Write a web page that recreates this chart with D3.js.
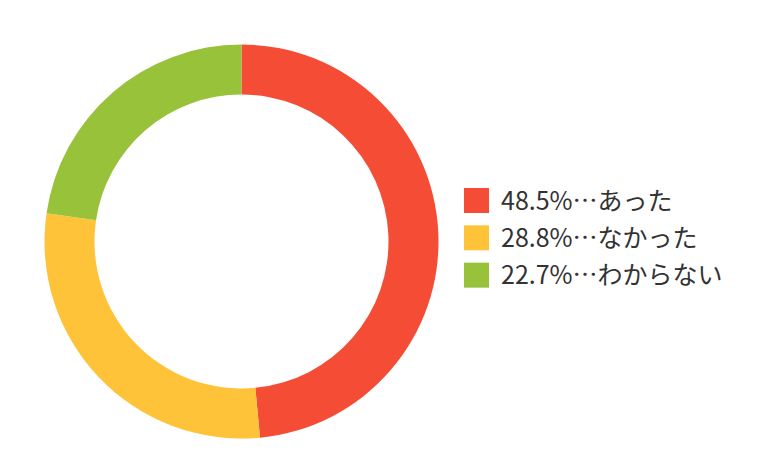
<!DOCTYPE html>
<html><head><meta charset="utf-8">
<script src="https://cdn.jsdelivr.net/npm/d3@7"></script>
<style>body{margin:0;background:#fff}svg{display:block}</style>
</head><body>
<svg id="c" width="760" height="471"></svg>
<script>
const labels = ["あった", "なかった", "わからない"];
const values = [48.5, 28.8, 22.7];
const colors = ["#F44C35", "#FFC33A", "#98C23A"];

const svg = d3.select("#c");
const cx = 241.5, cy = 241.5, rOuter = 197, rInner = 147;
const pie = d3.pie().sort(null).value(d => d)(values);
const arc = d3.arc().innerRadius(rInner).outerRadius(rOuter);
svg.append("g").attr("transform", `translate(${cx},${cy})`)
  .selectAll("path").data(pie).join("path")
  .attr("d", arc).attr("fill", (d, i) => colors[i]);

const lg = svg.append("g").attr("transform", "translate(464,188)");
const y = d3.scaleBand().domain(d3.range(values.length)).range([0, 112]);
const items = lg.selectAll("g").data(values).join("g")
  .attr("transform", (d, i) => `translate(0,${y(i)})`);
items.append("rect").attr("width", 25).attr("height", 25).attr("fill", (d, i) => colors[i]);
items.append("text").attr("x", 37).attr("y", 12.5).attr("dy", "0.36em")
  .attr("font-family", "'Noto Sans CJK JP', 'Noto Sans', sans-serif")
  .attr("font-size", 25).attr("fill", "#333")
  .text((d, i) => `${d.toFixed(1)}%…${labels[i]}`);
</script>
</body></html>
